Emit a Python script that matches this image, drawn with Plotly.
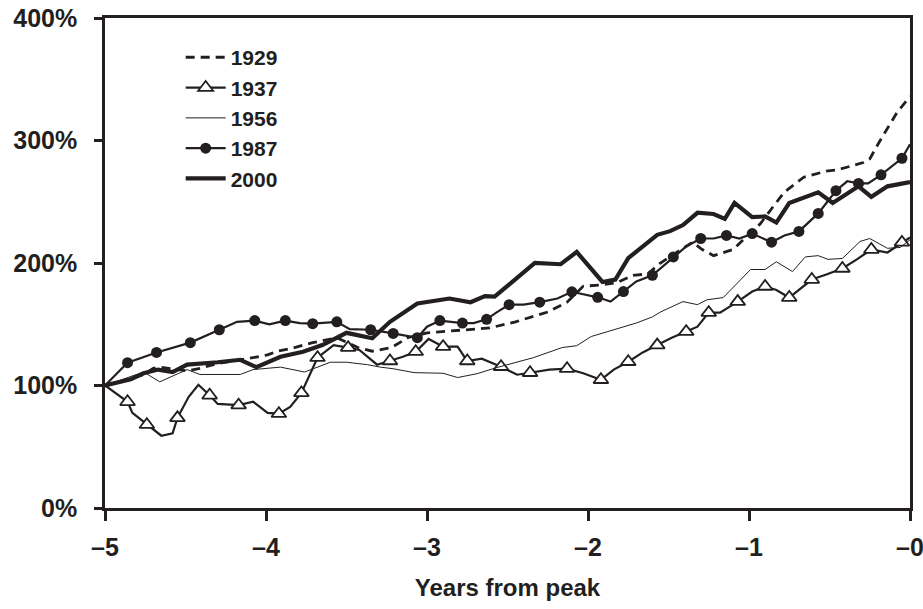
import plotly.graph_objects as go

INK = "#231f20"
FONT = "Liberation Sans, Arial, sans-serif"

# ---- data (years from peak, % of starting value) ----
x1929 = [-5.00, -4.91, -4.76, -4.70, -4.66, -4.49, -4.41, -4.30, -4.11, -3.99, -3.93, -3.85,
         -3.71, -3.56, -3.43, -3.34, -3.22, -3.12, -3.00, -2.81, -2.61, -2.45, -2.25, -2.13,
         -2.03, -1.93, -1.82, -1.72, -1.63, -1.55, -1.35, -1.29, -1.22, -1.10, -1.01, -0.93,
         -0.85, -0.78, -0.66, -0.52, -0.45, -0.29, -0.25, -0.19, -0.08, 0.00]
y1929 = [100, 103, 109, 114, 115, 112, 114, 118, 122, 125, 128, 130,
         135, 139, 131, 128, 131, 139, 143, 145, 147, 152, 160, 168,
         181, 182, 184, 190, 191, 200, 217, 211, 206, 211, 222, 232,
         246, 258, 270, 275, 276, 282, 285, 299, 323, 336]

x1937 = [-5.00, -4.86, -4.83, -4.74, -4.65, -4.58, -4.55, -4.48, -4.42, -4.35, -4.30, -4.17,
         -4.08, -3.99, -3.92, -3.85, -3.78, -3.68, -3.58, -3.49, -3.42, -3.31, -3.23, -3.15,
         -3.07, -2.99, -2.90, -2.81, -2.75, -2.66, -2.54, -2.44, -2.36, -2.24, -2.13, -2.03,
         -1.92, -1.84, -1.75, -1.66, -1.57, -1.48, -1.39, -1.32, -1.25, -1.18, -1.07, -0.98,
         -0.90, -0.83, -0.75, -0.61, -0.52, -0.42, -0.33, -0.24, -0.14, -0.05, 0.00]
y1937 = [100, 86.7, 77.7, 68, 59, 61, 73.6, 90.8, 100.6, 92, 85, 84,
         86.7, 77.7, 77, 82.6, 94, 122.7, 133, 130.9, 129, 117, 120, 123.5,
         127.6, 138, 131.7, 131.7, 120, 121.9, 115.3, 108.8, 110.4, 112.9, 113.7, 110,
         104.7, 113, 119.4, 127, 133, 139, 144, 148, 159.5, 159.5, 168.5, 176.7,
         180.8, 178, 171.8, 186.5, 190.6, 195.5, 203, 211, 208.6, 216.8, 220.8]
m1937 = [0, 1, 0, 1, 0, 0, 1, 0, 0, 1, 0, 1,
         0, 0, 1, 0, 1, 1, 0, 1, 0, 0, 1, 0,
         1, 0, 1, 0, 1, 0, 1, 0, 1, 0, 1, 0,
         1, 0, 1, 0, 1, 0, 1, 0, 1, 0, 1, 0,
         1, 0, 1, 1, 0, 1, 0, 1, 0, 1, 0]

x1956 = [-5.00, -4.76, -4.66, -4.49, -4.41, -4.16, -4.08, -3.91, -3.76, -3.60, -3.50, -3.37,
         -3.29, -3.21, -3.08, -2.90, -2.81, -2.69, -2.57, -2.34, -2.16, -2.07, -1.98, -1.70,
         -1.60, -1.55, -1.41, -1.32, -1.26, -1.16, -0.99, -0.90, -0.83, -0.73, -0.65, -0.57,
         -0.51, -0.42, -0.31, -0.25, -0.14, -0.06, 0.00]
y1956 = [100, 111, 103, 113, 109, 109, 113, 115, 111, 119, 119, 117,
         115, 113.7, 110.5, 110, 106.5, 109.6, 114.5, 122.7, 131, 132.5, 140, 151,
         156, 160, 168.5, 166, 170, 171.8, 194.7, 194.7, 201, 193, 205, 206,
         203, 203.7, 217.6, 220, 212, 212.7, 219]

x1987 = [-5.00, -4.86, -4.68, -4.47, -4.29, -4.18, -4.07, -3.98, -3.88, -3.79, -3.71, -3.56,
         -3.48, -3.35, -3.21, -3.06, -3.00, -2.92, -2.78, -2.71, -2.63, -2.57, -2.49, -2.40,
         -2.30, -2.19, -2.10, -1.94, -1.86, -1.78, -1.70, -1.60, -1.47, -1.39, -1.30, -1.22,
         -1.14, -1.06, -0.98, -0.86, -0.78, -0.69, -0.57, -0.46, -0.39, -0.32, -0.26, -0.18,
         -0.05, 0.00]
y1987 = [100, 118.6, 127, 135, 145.5, 152, 153, 150, 153, 151, 150.5, 152,
         146, 145.5, 142.5, 139, 148, 153, 151, 151, 154, 159.5, 166, 166,
         168, 171, 176.5, 172, 168.5, 176.7, 185, 190, 205, 213.5, 220, 220,
         222.5, 220, 224, 217, 222.5, 225.8, 240.5, 259, 266.7, 265, 265, 272,
         285.5, 297]
m1987 = [0, 1, 1, 1, 1, 0, 1, 0, 1, 0, 1, 1,
         0, 1, 1, 1, 0, 1, 1, 0, 1, 0, 1, 0,
         1, 0, 1, 1, 0, 1, 0, 1, 1, 0, 1, 0,
         1, 0, 1, 1, 0, 1, 1, 1, 0, 1, 0, 1,
         1, 0]

x2000 = [-5.00, -4.84, -4.76, -4.67, -4.58, -4.49, -4.30, -4.16, -4.06, -3.91, -3.77, -3.65,
         -3.50, -3.34, -3.23, -3.06, -2.86, -2.73, -2.64, -2.58, -2.33, -2.17, -2.07, -1.91,
         -1.83, -1.75, -1.57, -1.49, -1.41, -1.32, -1.22, -1.15, -1.09, -0.98, -0.90, -0.83,
         -0.75, -0.65, -0.57, -0.48, -0.32, -0.24, -0.14, 0.00]
y2000 = [100, 105, 110, 113, 111, 117, 119, 121, 115, 123.5, 127.6, 133,
         143, 138.5, 152, 167, 171, 168, 173, 172.5, 200, 199, 209, 184.5,
         186.5, 204, 223, 226, 231, 241, 240, 236, 249, 237.5, 238, 233,
         249, 254, 257.7, 249, 262.6, 254, 262.6, 266]

xticks = [-5, -4, -3, -2, -1, 0]
xticktext = ["\u20135", "\u20134", "\u20133", "\u20132", "\u20131", "\u20130"]
yticks = [0, 100, 200, 300, 400]
yticktext = ["0%", "100%", "200%", "300%", "400%"]


def pick(xs, ys, flags):
    return [x for x, f in zip(xs, flags) if f], [y for y, f in zip(ys, flags) if f]


fig = go.Figure()

fig.add_trace(go.Scatter(x=x1929, y=y1929, mode="lines", name="1929", legendgroup="a",
                         line=dict(color=INK, width=2.8, dash="9px,6px")))

tri = dict(symbol="triangle-up", size=13, color="white", line=dict(color=INK, width=1.8))
fig.add_trace(go.Scatter(x=x1937, y=y1937, mode="lines", showlegend=False,
                         line=dict(color=INK, width=2.2)))
mx, my = pick(x1937, y1937, m1937)
fig.add_trace(go.Scatter(x=mx, y=my, mode="markers", showlegend=False, marker=tri))
fig.add_trace(go.Scatter(x=[None], y=[None], mode="lines+markers", name="1937", legendgroup="b",
                         line=dict(color=INK, width=2.2), marker=tri))

fig.add_trace(go.Scatter(x=x1956, y=y1956, mode="lines", name="1956", legendgroup="c",
                         line=dict(color=INK, width=1)))

dot = dict(symbol="circle", size=11, color=INK)
fig.add_trace(go.Scatter(x=x1987, y=y1987, mode="lines", showlegend=False,
                         line=dict(color=INK, width=2.2)))
cx, cy = pick(x1987, y1987, m1987)
fig.add_trace(go.Scatter(x=cx, y=cy, mode="markers", showlegend=False, marker=dot))
fig.add_trace(go.Scatter(x=[None], y=[None], mode="lines+markers", name="1987", legendgroup="d",
                         line=dict(color=INK, width=2.2), marker=dot))

fig.add_trace(go.Scatter(x=x2000, y=y2000, mode="lines", name="2000", legendgroup="e",
                         line=dict(color=INK, width=4.2)))

fig.update_layout(
    width=923, height=609,
    margin=dict(l=105, r=13, t=18, b=101),
    plot_bgcolor="white", paper_bgcolor="white",
    font=dict(family=FONT, color=INK, size=22),
    showlegend=True,
    legend=dict(x=0.094, y=0.961, xanchor="left", yanchor="top",
                bgcolor="rgba(0,0,0,0)", tracegroupgap=0, itemwidth=40,
                traceorder="grouped",
                font=dict(family=FONT, size=21, color=INK, weight="bold")),
    xaxis=dict(range=[-5, 0], tickvals=xticks, ticktext=xticktext, automargin=False,
               showgrid=False, zeroline=False, showline=True, mirror=True,
               linecolor=INK, linewidth=2.5, ticks="outside", ticklen=10, tickwidth=2.5,
               tickcolor=INK, ticklabelstandoff=5, ticklabeloverflow="allow",
               tickfont=dict(size=25, weight="bold"),
               title=dict(text="Years from peak", font=dict(size=24, weight="bold"), standoff=20)),
    yaxis=dict(range=[0, 400], tickvals=yticks, ticktext=yticktext, automargin=False,
               showgrid=False, zeroline=False, showline=True, mirror=True,
               linecolor=INK, linewidth=2.5, ticks="outside", ticklen=8, tickwidth=2.5,
               tickcolor=INK, ticklabelstandoff=12, ticklabeloverflow="allow",
               tickfont=dict(size=25, weight="bold")),
)

fig.write_html("out.html")
